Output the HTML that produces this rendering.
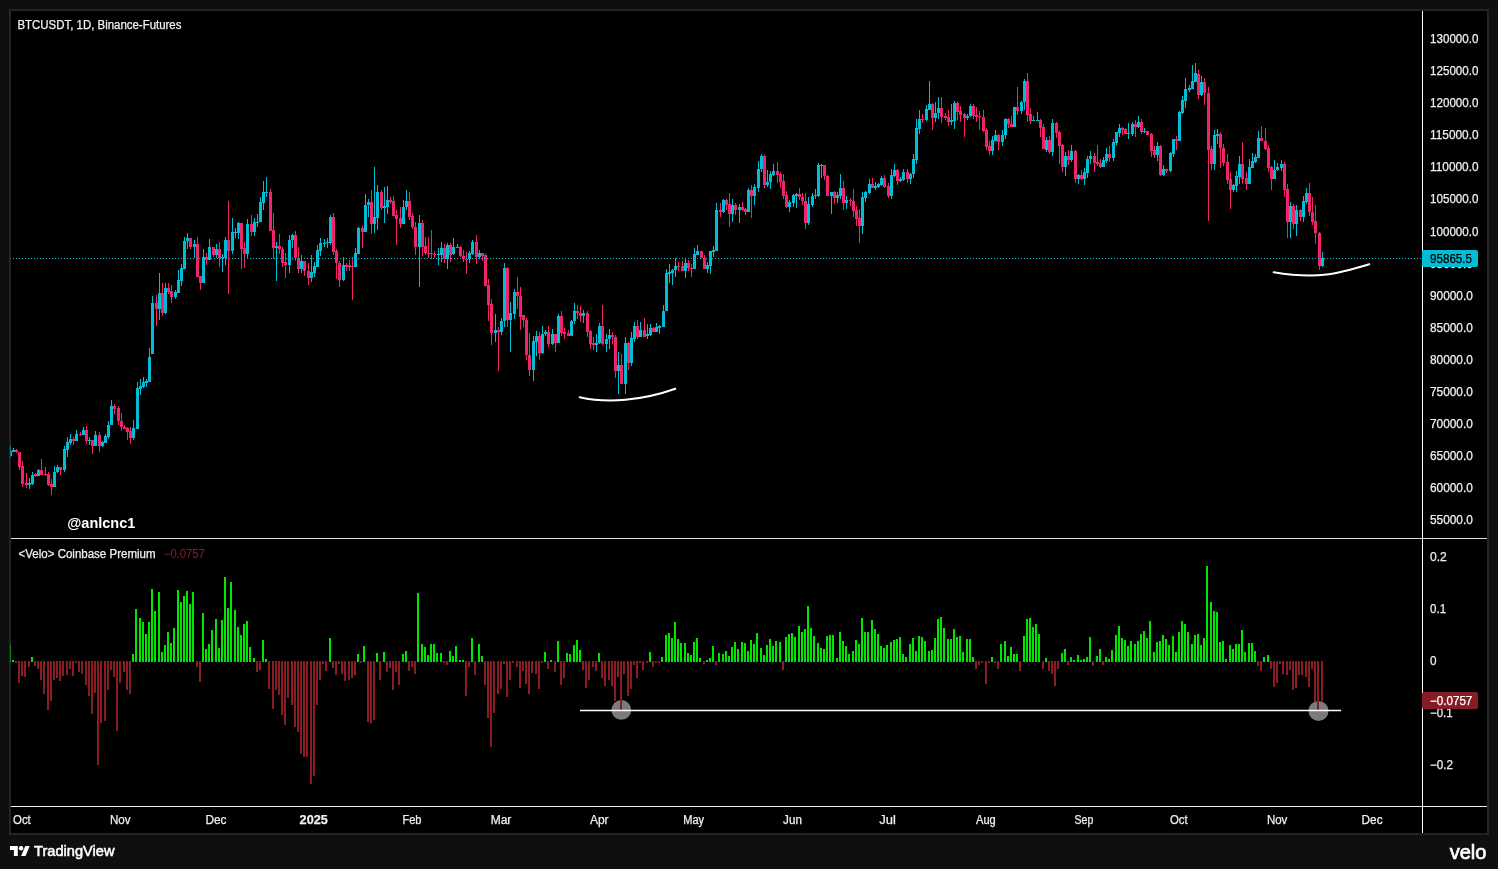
<!DOCTYPE html>
<html><head><meta charset="utf-8"><title>BTCUSDT chart</title>
<style>
html,body{margin:0;padding:0;background:#0f0f0f;width:1498px;height:869px;overflow:hidden}
svg{display:block}
text{font-family:"Liberation Sans",Arial,sans-serif}
</style></head>
<body>
<svg width="1498" height="869" viewBox="0 0 1498 869">
<defs>
<clipPath id="cp1"><rect x="11" y="11" width="1411" height="527"/></clipPath>
<clipPath id="cp2"><rect x="11" y="539" width="1411" height="267"/></clipPath>
</defs>
<rect width="1498" height="869" fill="#0f0f0f"/>
<rect x="9" y="9" width="1480" height="826" fill="#222429"/>
<rect x="11" y="11" width="1476" height="822" fill="#000"/>
<g clip-path="url(#cp1)">
<path fill="#00bcd4" d="M10 446h1v11h-1zM13 448h1v4h-1zM29 478h1v11h-1zM32 472h1v13h-1zM38 469h1v7h-1zM54 466h1v21h-1zM57 465h1v8h-1zM64 446h1v26h-1zM67 437h1v20h-1zM70 434h1v11h-1zM76 430h1v11h-1zM83 427h1v8h-1zM89 437h1v8h-1zM95 431h1v15h-1zM102 441h1v6h-1zM105 434h1v9h-1zM108 421h1v18h-1zM111 400h1v25h-1zM133 420h1v20h-1zM137 382h1v47h-1zM140 379h1v16h-1zM143 377h1v11h-1zM146 379h1v8h-1zM149 348h1v34h-1zM152 296h1v58h-1zM159 273h1v47h-1zM165 283h1v31h-1zM175 290h1v9h-1zM178 270h1v23h-1zM181 264h1v22h-1zM184 237h1v32h-1zM187 233h1v16h-1zM194 240h1v18h-1zM203 249h1v34h-1zM209 239h1v21h-1zM216 244h1v14h-1zM222 254h1v18h-1zM225 237h1v28h-1zM232 218h1v36h-1zM235 228h1v10h-1zM238 222h1v17h-1zM247 219h1v40h-1zM254 218h1v18h-1zM257 214h1v13h-1zM260 197h1v25h-1zM263 181h1v29h-1zM266 177h1v20h-1zM276 242h1v39h-1zM289 235h1v38h-1zM292 234h1v14h-1zM301 255h1v18h-1zM311 255h1v27h-1zM314 262h1v15h-1zM317 245h1v22h-1zM320 238h1v18h-1zM324 239h1v8h-1zM327 238h1v10h-1zM330 215h1v30h-1zM343 257h1v24h-1zM355 248h1v19h-1zM358 227h1v27h-1zM365 194h1v38h-1zM368 199h1v18h-1zM374 167h1v66h-1zM377 185h1v45h-1zM384 187h1v36h-1zM387 186h1v28h-1zM403 200h1v24h-1zM406 190h1v20h-1zM419 215h1v72h-1zM438 248h1v17h-1zM441 242h1v20h-1zM447 243h1v26h-1zM453 238h1v17h-1zM457 244h1v4h-1zM469 251h1v12h-1zM472 240h1v15h-1zM479 250h1v9h-1zM495 314h1v28h-1zM501 318h1v17h-1zM504 263h1v64h-1zM510 302h1v50h-1zM514 289h1v30h-1zM533 336h1v45h-1zM536 331h1v25h-1zM542 326h1v28h-1zM545 330h1v6h-1zM552 329h1v16h-1zM558 314h1v29h-1zM571 320h1v16h-1zM574 303h1v21h-1zM583 310h1v13h-1zM596 334h1v18h-1zM599 323h1v21h-1zM606 334h1v18h-1zM609 329h1v20h-1zM618 352h1v42h-1zM625 337h1v57h-1zM631 332h1v34h-1zM634 322h1v20h-1zM640 322h1v15h-1zM647 324h1v15h-1zM650 324h1v12h-1zM656 323h1v9h-1zM659 325h1v9h-1zM663 305h1v22h-1zM666 269h1v42h-1zM669 264h1v19h-1zM672 269h1v16h-1zM675 258h1v19h-1zM685 258h1v20h-1zM694 248h1v21h-1zM697 245h1v10h-1zM707 262h1v11h-1zM710 251h1v23h-1zM713 246h1v11h-1zM716 203h1v48h-1zM723 199h1v14h-1zM732 199h1v23h-1zM739 204h1v19h-1zM748 188h1v24h-1zM754 184h1v21h-1zM758 161h1v31h-1zM761 154h1v18h-1zM767 170h1v17h-1zM770 171h1v18h-1zM773 164h1v12h-1zM789 200h1v12h-1zM793 194h1v13h-1zM796 193h1v15h-1zM808 197h1v28h-1zM812 193h1v14h-1zM815 189h1v10h-1zM818 163h1v34h-1zM821 164h1v14h-1zM831 192h1v22h-1zM837 192h1v11h-1zM840 174h1v25h-1zM846 196h1v13h-1zM862 192h1v42h-1zM865 191h1v11h-1zM869 179h1v15h-1zM875 182h1v8h-1zM878 183h1v5h-1zM881 176h1v10h-1zM891 169h1v30h-1zM894 164h1v13h-1zM900 177h1v5h-1zM903 169h1v12h-1zM910 173h1v11h-1zM913 154h1v24h-1zM916 119h1v45h-1zM919 110h1v24h-1zM926 105h1v16h-1zM929 81h1v29h-1zM935 102h1v20h-1zM938 97h1v22h-1zM951 104h1v21h-1zM954 101h1v28h-1zM967 114h1v6h-1zM970 104h1v13h-1zM992 136h1v19h-1zM995 130h1v11h-1zM1002 130h1v16h-1zM1005 118h1v21h-1zM1014 107h1v20h-1zM1021 101h1v13h-1zM1024 79h1v31h-1zM1033 116h1v5h-1zM1037 112h1v9h-1zM1046 137h1v15h-1zM1052 119h1v37h-1zM1065 152h1v24h-1zM1071 145h1v17h-1zM1078 174h1v10h-1zM1084 168h1v17h-1zM1087 156h1v22h-1zM1090 151h1v13h-1zM1103 157h1v10h-1zM1106 148h1v15h-1zM1113 139h1v22h-1zM1116 132h1v13h-1zM1119 124h1v13h-1zM1128 123h1v16h-1zM1132 122h1v14h-1zM1138 116h1v12h-1zM1144 128h1v5h-1zM1157 142h1v19h-1zM1163 165h1v11h-1zM1170 152h1v20h-1zM1173 139h1v18h-1zM1179 111h1v30h-1zM1182 96h1v18h-1zM1185 78h1v30h-1zM1189 85h1v7h-1zM1192 65h1v24h-1zM1195 63h1v19h-1zM1201 76h1v20h-1zM1214 130h1v40h-1zM1217 129h1v15h-1zM1233 184h1v8h-1zM1236 171h1v21h-1zM1239 156h1v28h-1zM1249 159h1v25h-1zM1252 153h1v15h-1zM1255 154h1v9h-1zM1258 131h1v27h-1zM1274 160h1v19h-1zM1277 163h1v8h-1zM1281 160h1v11h-1zM1290 202h1v36h-1zM1296 205h1v31h-1zM1303 196h1v26h-1zM1306 188h1v16h-1zM1322 252h1v15h-1zM9 451h3v5h-3zM12 450h3v2h-3zM28 483h3v2h-3zM31 475h3v9h-3zM37 470h3v6h-3zM53 472h3v15h-3zM56 467h3v5h-3zM63 449h3v21h-3zM66 442h3v8h-3zM69 439h3v4h-3zM75 434h3v7h-3zM82 430h3v5h-3zM88 440h3v1h-3zM94 435h3v11h-3zM101 442h3v4h-3zM104 436h3v7h-3zM107 425h3v12h-3zM110 406h3v19h-3zM132 428h3v10h-3zM136 388h3v41h-3zM139 386h3v3h-3zM142 382h3v5h-3zM145 381h3v2h-3zM148 357h3v25h-3zM151 303h3v51h-3zM158 293h3v16h-3zM164 288h3v25h-3zM174 292h3v5h-3zM177 280h3v13h-3zM180 268h3v13h-3zM183 241h3v28h-3zM186 238h3v3h-3zM193 244h3v3h-3zM202 257h3v26h-3zM208 247h3v13h-3zM215 249h3v6h-3zM221 257h3v1h-3zM224 240h3v18h-3zM231 232h3v19h-3zM234 232h3v1h-3zM237 223h3v10h-3zM246 224h3v30h-3zM253 222h3v10h-3zM256 222h3v1h-3zM259 202h3v20h-3zM262 192h3v11h-3zM265 192h3v1h-3zM275 246h3v2h-3zM288 240h3v25h-3zM291 235h3v5h-3zM300 261h3v8h-3zM310 272h3v6h-3zM313 266h3v7h-3zM316 250h3v17h-3zM319 243h3v8h-3zM323 243h3v1h-3zM326 242h3v1h-3zM329 217h3v26h-3zM342 265h3v15h-3zM354 253h3v14h-3zM357 228h3v26h-3zM364 205h3v27h-3zM367 202h3v3h-3zM373 217h3v7h-3zM376 192h3v26h-3zM383 206h3v2h-3zM386 200h3v7h-3zM402 207h3v17h-3zM405 201h3v6h-3zM418 223h3v24h-3zM437 254h3v1h-3zM440 248h3v7h-3zM446 245h3v14h-3zM452 247h3v7h-3zM456 247h3v1h-3zM468 253h3v6h-3zM471 242h3v12h-3zM478 253h3v4h-3zM494 330h3v3h-3zM500 321h3v11h-3zM503 268h3v53h-3zM509 313h3v7h-3zM513 292h3v22h-3zM532 341h3v29h-3zM535 336h3v6h-3zM541 334h3v19h-3zM544 332h3v2h-3zM551 334h3v10h-3zM557 316h3v27h-3zM570 321h3v15h-3zM573 311h3v10h-3zM582 313h3v3h-3zM595 343h3v2h-3zM598 326h3v17h-3zM605 339h3v5h-3zM608 335h3v4h-3zM617 365h3v6h-3zM624 343h3v41h-3zM630 338h3v25h-3zM633 326h3v13h-3zM639 330h3v7h-3zM646 334h3v2h-3zM649 328h3v7h-3zM655 327h3v5h-3zM658 326h3v2h-3zM662 311h3v16h-3zM665 273h3v38h-3zM668 272h3v2h-3zM671 270h3v3h-3zM674 266h3v4h-3zM684 263h3v8h-3zM693 254h3v15h-3zM696 251h3v4h-3zM706 265h3v4h-3zM709 251h3v15h-3zM712 250h3v2h-3zM715 210h3v41h-3zM722 200h3v12h-3zM731 205h3v9h-3zM738 207h3v3h-3zM747 190h3v22h-3zM753 187h3v9h-3zM757 169h3v19h-3zM760 156h3v13h-3zM766 182h3v3h-3zM769 174h3v8h-3zM772 171h3v4h-3zM788 202h3v5h-3zM792 195h3v8h-3zM795 194h3v2h-3zM807 204h3v19h-3zM811 196h3v9h-3zM814 195h3v1h-3zM817 165h3v31h-3zM820 165h3v1h-3zM830 192h3v4h-3zM836 195h3v3h-3zM839 188h3v8h-3zM845 200h3v3h-3zM861 197h3v29h-3zM864 192h3v6h-3zM868 184h3v9h-3zM874 186h3v2h-3zM877 184h3v3h-3zM880 178h3v7h-3zM890 175h3v21h-3zM893 170h3v6h-3zM899 179h3v2h-3zM902 172h3v8h-3zM909 174h3v5h-3zM912 159h3v15h-3zM915 128h3v32h-3zM918 119h3v10h-3zM925 109h3v11h-3zM928 104h3v6h-3zM934 113h3v5h-3zM937 108h3v5h-3zM950 120h3v2h-3zM953 103h3v18h-3zM966 116h3v2h-3zM969 106h3v10h-3zM991 140h3v11h-3zM994 135h3v6h-3zM1001 135h3v7h-3zM1004 119h3v16h-3zM1013 107h3v20h-3zM1020 102h3v9h-3zM1023 81h3v21h-3zM1032 120h3v1h-3zM1036 120h3v1h-3zM1045 140h3v10h-3zM1051 123h3v29h-3zM1064 156h3v11h-3zM1070 151h3v9h-3zM1077 175h3v4h-3zM1083 172h3v7h-3zM1086 159h3v14h-3zM1089 156h3v3h-3zM1102 160h3v7h-3zM1105 154h3v7h-3zM1112 142h3v16h-3zM1115 132h3v11h-3zM1118 128h3v5h-3zM1127 133h3v1h-3zM1131 124h3v10h-3zM1137 122h3v5h-3zM1143 131h3v1h-3zM1156 146h3v9h-3zM1162 169h3v6h-3zM1169 153h3v18h-3zM1172 139h3v15h-3zM1178 112h3v29h-3zM1181 100h3v13h-3zM1184 89h3v12h-3zM1188 88h3v2h-3zM1191 81h3v8h-3zM1194 73h3v9h-3zM1200 82h3v13h-3zM1213 135h3v29h-3zM1216 134h3v2h-3zM1232 185h3v5h-3zM1235 176h3v10h-3zM1238 164h3v13h-3zM1248 167h3v17h-3zM1251 161h3v7h-3zM1254 157h3v5h-3zM1257 138h3v20h-3zM1273 170h3v9h-3zM1276 167h3v3h-3zM1280 164h3v4h-3zM1289 206h3v16h-3zM1295 210h3v14h-3zM1302 201h3v16h-3zM1305 193h3v9h-3zM1321 258h3v8h-3z"/><path fill="#f0246c" d="M16 449h1v4h-1zM19 452h1v18h-1zM22 461h1v26h-1zM26 473h1v15h-1zM35 473h1v4h-1zM41 459h1v16h-1zM45 467h1v9h-1zM48 472h1v14h-1zM51 479h1v16h-1zM60 467h1v8h-1zM73 437h1v8h-1zM80 432h1v4h-1zM86 426h1v18h-1zM92 440h1v14h-1zM99 432h1v20h-1zM114 404h1v10h-1zM118 406h1v19h-1zM121 413h1v18h-1zM124 425h1v4h-1zM127 427h1v13h-1zM130 427h1v17h-1zM156 295h1v31h-1zM162 283h1v33h-1zM168 283h1v11h-1zM171 285h1v18h-1zM190 238h1v11h-1zM197 237h1v40h-1zM200 276h1v14h-1zM206 253h1v12h-1zM213 247h1v10h-1zM219 242h1v25h-1zM228 201h1v93h-1zM241 223h1v46h-1zM244 242h1v26h-1zM251 215h1v21h-1zM270 189h1v42h-1zM273 213h1v46h-1zM279 234h1v20h-1zM282 247h1v20h-1zM285 253h1v25h-1zM295 231h1v30h-1zM298 247h1v26h-1zM304 261h1v15h-1zM308 263h1v22h-1zM333 213h1v42h-1zM336 249h1v30h-1zM339 261h1v26h-1zM346 263h1v8h-1zM349 260h1v11h-1zM352 257h1v43h-1zM362 226h1v22h-1zM371 190h1v44h-1zM381 190h1v20h-1zM390 197h1v7h-1zM393 196h1v20h-1zM396 210h1v35h-1zM400 207h1v21h-1zM409 192h1v28h-1zM412 213h1v16h-1zM415 222h1v33h-1zM422 220h1v36h-1zM425 237h1v18h-1zM428 237h1v21h-1zM431 230h1v29h-1zM434 251h1v7h-1zM444 244h1v19h-1zM450 243h1v19h-1zM460 246h1v11h-1zM463 250h1v12h-1zM466 252h1v22h-1zM476 235h1v29h-1zM482 253h1v8h-1zM485 254h1v32h-1zM488 279h1v42h-1zM491 299h1v46h-1zM498 327h1v44h-1zM507 267h1v60h-1zM517 277h1v32h-1zM520 287h1v43h-1zM523 315h1v12h-1zM526 318h1v42h-1zM529 333h1v43h-1zM539 332h1v28h-1zM548 326h1v21h-1zM555 334h1v18h-1zM561 311h1v25h-1zM564 328h1v11h-1zM568 330h1v6h-1zM577 305h1v14h-1zM580 306h1v16h-1zM587 311h1v26h-1zM590 330h1v19h-1zM593 337h1v13h-1zM602 305h1v40h-1zM612 332h1v12h-1zM615 335h1v43h-1zM621 354h1v30h-1zM628 342h1v28h-1zM637 320h1v19h-1zM644 318h1v19h-1zM653 327h1v5h-1zM678 262h1v9h-1zM682 261h1v10h-1zM688 260h1v11h-1zM691 264h1v13h-1zM701 251h1v7h-1zM704 255h1v14h-1zM720 203h1v14h-1zM726 199h1v11h-1zM729 193h1v34h-1zM735 203h1v12h-1zM742 202h1v9h-1zM745 208h1v7h-1zM751 185h1v33h-1zM764 155h1v33h-1zM777 162h1v21h-1zM780 172h1v16h-1zM783 174h1v25h-1zM786 191h1v17h-1zM799 188h1v12h-1zM802 193h1v12h-1zM805 193h1v36h-1zM824 165h1v15h-1zM827 175h1v21h-1zM834 191h1v13h-1zM843 181h1v29h-1zM850 198h1v8h-1zM853 189h1v28h-1zM856 206h1v20h-1zM859 209h1v34h-1zM872 178h1v10h-1zM884 175h1v13h-1zM888 183h1v15h-1zM897 169h1v16h-1zM907 169h1v14h-1zM922 114h1v9h-1zM932 103h1v27h-1zM941 97h1v26h-1zM945 113h1v7h-1zM948 110h1v16h-1zM957 102h1v18h-1zM960 106h1v16h-1zM964 113h1v24h-1zM973 104h1v15h-1zM976 107h1v15h-1zM979 111h1v19h-1zM983 110h1v22h-1zM986 128h1v22h-1zM989 141h1v14h-1zM998 134h1v16h-1zM1008 118h1v10h-1zM1011 116h1v11h-1zM1017 87h1v28h-1zM1027 73h1v49h-1zM1030 108h1v16h-1zM1040 119h1v18h-1zM1043 124h1v25h-1zM1049 136h1v18h-1zM1056 122h1v16h-1zM1059 131h1v33h-1zM1062 144h1v28h-1zM1068 150h1v15h-1zM1075 150h1v33h-1zM1081 170h1v10h-1zM1094 153h1v19h-1zM1097 145h1v21h-1zM1100 159h1v9h-1zM1109 146h1v16h-1zM1122 127h1v8h-1zM1125 128h1v6h-1zM1135 120h1v17h-1zM1141 119h1v15h-1zM1147 131h1v4h-1zM1151 133h1v24h-1zM1154 146h1v12h-1zM1160 145h1v31h-1zM1166 169h1v4h-1zM1176 136h1v14h-1zM1198 70h1v29h-1zM1204 78h1v27h-1zM1208 87h1v134h-1zM1211 146h1v24h-1zM1220 132h1v36h-1zM1223 144h1v22h-1zM1227 154h1v30h-1zM1230 172h1v37h-1zM1242 142h1v42h-1zM1246 172h1v18h-1zM1261 126h1v15h-1zM1265 128h1v22h-1zM1268 145h1v27h-1zM1271 166h1v24h-1zM1284 162h1v35h-1zM1287 184h1v54h-1zM1293 204h1v25h-1zM1300 209h1v12h-1zM1309 183h1v33h-1zM1312 197h1v28h-1zM1315 205h1v39h-1zM1319 232h1v38h-1zM15 450h3v2h-3zM18 452h3v15h-3zM21 466h3v18h-3zM25 483h3v2h-3zM34 474h3v2h-3zM40 470h3v5h-3zM44 474h3v1h-3zM47 474h3v11h-3zM50 484h3v3h-3zM59 467h3v3h-3zM72 439h3v2h-3zM79 434h3v1h-3zM85 430h3v11h-3zM91 440h3v6h-3zM98 435h3v11h-3zM113 406h3v3h-3zM117 408h3v13h-3zM120 421h3v6h-3zM123 427h3v2h-3zM126 428h3v4h-3zM129 431h3v7h-3zM155 303h3v6h-3zM161 293h3v20h-3zM167 288h3v4h-3zM170 291h3v6h-3zM189 238h3v9h-3zM196 244h3v33h-3zM199 276h3v7h-3zM205 257h3v3h-3zM212 247h3v8h-3zM218 249h3v9h-3zM227 240h3v11h-3zM240 223h3v26h-3zM243 248h3v6h-3zM250 224h3v8h-3zM269 192h3v39h-3zM272 230h3v18h-3zM278 246h3v3h-3zM281 249h3v14h-3zM284 262h3v3h-3zM294 235h3v23h-3zM297 258h3v11h-3zM303 261h3v10h-3zM307 271h3v7h-3zM332 217h3v35h-3zM335 251h3v12h-3zM338 263h3v17h-3zM345 265h3v2h-3zM348 265h3v2h-3zM351 266h3v1h-3zM361 228h3v4h-3zM370 202h3v22h-3zM380 192h3v16h-3zM389 200h3v2h-3zM392 201h3v15h-3zM395 215h3v4h-3zM399 218h3v6h-3zM408 201h3v16h-3zM411 216h3v11h-3zM414 227h3v20h-3zM421 223h3v24h-3zM424 246h3v7h-3zM427 253h3v1h-3zM430 253h3v1h-3zM433 254h3v1h-3zM443 248h3v11h-3zM449 245h3v10h-3zM459 247h3v9h-3zM462 256h3v3h-3zM465 259h3v1h-3zM475 242h3v15h-3zM481 253h3v3h-3zM484 255h3v31h-3zM487 285h3v20h-3zM490 304h3v29h-3zM497 330h3v2h-3zM506 268h3v52h-3zM516 292h3v4h-3zM519 296h3v21h-3zM522 315h3v5h-3zM525 320h3v35h-3zM528 355h3v15h-3zM538 336h3v17h-3zM547 332h3v12h-3zM554 334h3v9h-3zM560 316h3v17h-3zM563 332h3v2h-3zM567 333h3v3h-3zM576 311h3v2h-3zM579 313h3v3h-3zM586 313h3v19h-3zM589 331h3v13h-3zM592 343h3v2h-3zM601 326h3v18h-3zM611 335h3v2h-3zM614 337h3v34h-3zM620 365h3v19h-3zM627 343h3v20h-3zM636 326h3v11h-3zM643 330h3v7h-3zM652 328h3v4h-3zM677 266h3v1h-3zM681 266h3v5h-3zM687 263h3v5h-3zM690 268h3v1h-3zM700 251h3v7h-3zM703 258h3v11h-3zM719 210h3v2h-3zM725 200h3v5h-3zM728 204h3v10h-3zM734 205h3v5h-3zM741 207h3v3h-3zM744 209h3v3h-3zM750 190h3v6h-3zM763 156h3v29h-3zM776 171h3v4h-3zM779 174h3v8h-3zM782 181h3v15h-3zM785 195h3v12h-3zM798 194h3v3h-3zM801 197h3v4h-3zM804 201h3v22h-3zM823 165h3v11h-3zM826 176h3v20h-3zM833 192h3v6h-3zM842 188h3v15h-3zM849 200h3v1h-3zM852 201h3v10h-3zM855 210h3v9h-3zM858 218h3v8h-3zM871 184h3v4h-3zM883 178h3v9h-3zM887 186h3v10h-3zM896 170h3v11h-3zM906 172h3v7h-3zM921 119h3v1h-3zM931 104h3v14h-3zM940 108h3v9h-3zM944 116h3v2h-3zM947 117h3v5h-3zM956 103h3v9h-3zM959 111h3v4h-3zM963 114h3v4h-3zM972 106h3v10h-3zM975 115h3v2h-3zM978 116h3v1h-3zM982 117h3v14h-3zM985 130h3v17h-3zM988 146h3v5h-3zM997 135h3v7h-3zM1007 119h3v5h-3zM1010 124h3v3h-3zM1016 107h3v4h-3zM1026 81h3v34h-3zM1029 114h3v7h-3zM1039 120h3v8h-3zM1042 127h3v22h-3zM1048 140h3v12h-3zM1055 123h3v10h-3zM1058 132h3v14h-3zM1061 145h3v22h-3zM1067 156h3v4h-3zM1074 151h3v28h-3zM1080 175h3v4h-3zM1093 156h3v7h-3zM1096 162h3v2h-3zM1099 163h3v4h-3zM1108 154h3v4h-3zM1121 128h3v2h-3zM1124 129h3v5h-3zM1134 124h3v3h-3zM1140 122h3v10h-3zM1146 131h3v4h-3zM1150 134h3v17h-3zM1153 150h3v5h-3zM1159 146h3v29h-3zM1165 169h3v2h-3zM1175 139h3v2h-3zM1197 74h3v21h-3zM1203 82h3v11h-3zM1207 93h3v57h-3zM1210 149h3v15h-3zM1219 134h3v14h-3zM1222 148h3v15h-3zM1226 162h3v18h-3zM1229 179h3v11h-3zM1241 164h3v15h-3zM1245 178h3v6h-3zM1260 138h3v3h-3zM1264 141h3v8h-3zM1267 148h3v20h-3zM1270 167h3v12h-3zM1283 164h3v26h-3zM1286 189h3v33h-3zM1292 206h3v18h-3zM1299 210h3v7h-3zM1308 193h3v19h-3zM1311 212h3v10h-3zM1314 221h3v12h-3zM1318 233h3v33h-3z"/>
<line x1="10" y1="258.5" x2="1422" y2="258.5" stroke="#00bcd4" stroke-width="1" stroke-dasharray="1 2"/>
<path d="M579.6 397.2 C607.3 403.4 642.4 400.6 675.3 388.8" fill="none" stroke="#fff" stroke-width="2" stroke-linecap="round"/>
<path d="M1273.7 272.3 C1318.3 279.7 1338.8 273.5 1369.3 264.2" fill="none" stroke="#fff" stroke-width="2" stroke-linecap="round"/>
</g>
<g clip-path="url(#cp2)">
<circle cx="621.35" cy="709.9" r="9.9" fill="#7b7b7b"/>
<circle cx="1318.5" cy="710.9" r="10" fill="#7b7b7b"/>
<path fill="#00e600" d="M9 645h2v17h-2zM12 660h2v2h-2zM31 657h2v5h-2zM132 654h2v8h-2zM135 609h2v53h-2zM139 618h2v44h-2zM142 622h2v40h-2zM145 634h2v28h-2zM148 622h2v40h-2zM151 589h2v73h-2zM154 611h2v51h-2zM158 592h2v70h-2zM161 652h2v10h-2zM164 645h2v17h-2zM167 632h2v30h-2zM170 643h2v19h-2zM173 628h2v34h-2zM177 590h2v72h-2zM180 602h2v60h-2zM183 596h2v66h-2zM186 591h2v71h-2zM189 604h2v58h-2zM192 592h2v70h-2zM202 613h2v49h-2zM205 649h2v13h-2zM208 644h2v18h-2zM211 630h2v32h-2zM215 619h2v43h-2zM218 648h2v14h-2zM221 620h2v42h-2zM224 577h2v85h-2zM227 608h2v54h-2zM230 582h2v80h-2zM234 610h2v52h-2zM237 627h2v35h-2zM240 635h2v27h-2zM243 624h2v38h-2zM246 621h2v41h-2zM249 647h2v15h-2zM253 658h2v4h-2zM262 640h2v22h-2zM265 659h2v3h-2zM329 638h2v24h-2zM357 654h2v8h-2zM363 646h2v16h-2zM376 653h2v9h-2zM383 652h2v10h-2zM402 654h2v8h-2zM405 651h2v11h-2zM417 593h2v69h-2zM421 644h2v18h-2zM424 647h2v15h-2zM427 655h2v7h-2zM430 644h2v18h-2zM433 644h2v18h-2zM436 653h2v9h-2zM440 653h2v9h-2zM449 651h2v11h-2zM452 656h2v6h-2zM455 646h2v16h-2zM459 660h2v2h-2zM462 660h2v2h-2zM471 638h2v24h-2zM478 644h2v18h-2zM481 656h2v6h-2zM544 652h2v10h-2zM550 660h2v2h-2zM557 641h2v21h-2zM566 653h2v9h-2zM569 654h2v8h-2zM573 645h2v17h-2zM576 640h2v22h-2zM579 650h2v12h-2zM598 653h2v9h-2zM649 652h2v10h-2zM661 657h2v5h-2zM665 635h2v27h-2zM668 633h2v29h-2zM671 638h2v24h-2zM674 622h2v40h-2zM677 639h2v23h-2zM680 643h2v19h-2zM684 643h2v19h-2zM687 653h2v9h-2zM690 655h2v7h-2zM693 642h2v20h-2zM696 638h2v24h-2zM699 658h2v4h-2zM706 660h2v2h-2zM709 658h2v4h-2zM712 646h2v16h-2zM718 653h2v9h-2zM722 654h2v8h-2zM725 651h2v11h-2zM728 656h2v6h-2zM731 647h2v15h-2zM734 642h2v20h-2zM737 649h2v13h-2zM741 642h2v20h-2zM744 643h2v19h-2zM747 651h2v11h-2zM750 640h2v22h-2zM753 644h2v18h-2zM756 633h2v29h-2zM760 648h2v14h-2zM763 655h2v7h-2zM766 645h2v17h-2zM769 639h2v23h-2zM772 646h2v16h-2zM775 641h2v21h-2zM779 642h2v20h-2zM785 637h2v25h-2zM788 634h2v28h-2zM791 633h2v29h-2zM794 637h2v25h-2zM798 626h2v36h-2zM801 632h2v30h-2zM804 629h2v33h-2zM807 606h2v56h-2zM810 628h2v34h-2zM813 636h2v26h-2zM817 643h2v19h-2zM820 648h2v14h-2zM823 649h2v13h-2zM826 636h2v26h-2zM829 635h2v27h-2zM832 635h2v27h-2zM836 658h2v4h-2zM839 632h2v30h-2zM842 641h2v21h-2zM845 646h2v16h-2zM848 654h2v8h-2zM852 651h2v11h-2zM855 640h2v22h-2zM858 644h2v18h-2zM861 618h2v44h-2zM864 632h2v30h-2zM867 632h2v30h-2zM871 620h2v42h-2zM874 629h2v33h-2zM877 634h2v28h-2zM880 646h2v16h-2zM883 648h2v14h-2zM886 645h2v17h-2zM890 642h2v20h-2zM893 640h2v22h-2zM896 639h2v23h-2zM899 637h2v25h-2zM902 654h2v8h-2zM905 657h2v5h-2zM909 644h2v18h-2zM912 638h2v24h-2zM915 651h2v11h-2zM918 636h2v26h-2zM921 637h2v25h-2zM924 641h2v21h-2zM928 651h2v11h-2zM931 650h2v12h-2zM934 638h2v24h-2zM937 619h2v43h-2zM940 617h2v45h-2zM943 628h2v34h-2zM947 639h2v23h-2zM950 639h2v23h-2zM953 629h2v33h-2zM956 637h2v25h-2zM959 636h2v26h-2zM962 652h2v10h-2zM966 639h2v23h-2zM969 639h2v23h-2zM972 657h2v5h-2zM991 657h2v5h-2zM1000 644h2v18h-2zM1004 641h2v21h-2zM1007 656h2v6h-2zM1010 647h2v15h-2zM1013 654h2v8h-2zM1016 654h2v8h-2zM1023 636h2v26h-2zM1026 619h2v43h-2zM1029 618h2v44h-2zM1032 627h2v35h-2zM1035 624h2v38h-2zM1038 634h2v28h-2zM1045 658h2v4h-2zM1061 653h2v9h-2zM1064 649h2v13h-2zM1070 657h2v5h-2zM1073 660h2v2h-2zM1077 655h2v7h-2zM1080 660h2v2h-2zM1083 659h2v3h-2zM1086 657h2v5h-2zM1089 637h2v25h-2zM1096 656h2v6h-2zM1099 649h2v13h-2zM1105 657h2v5h-2zM1108 659h2v3h-2zM1111 650h2v12h-2zM1115 635h2v27h-2zM1118 626h2v36h-2zM1121 638h2v24h-2zM1124 640h2v22h-2zM1127 646h2v16h-2zM1130 641h2v21h-2zM1134 644h2v18h-2zM1137 641h2v21h-2zM1140 634h2v28h-2zM1143 631h2v31h-2zM1146 638h2v24h-2zM1149 621h2v41h-2zM1153 652h2v10h-2zM1156 642h2v20h-2zM1159 641h2v21h-2zM1162 635h2v27h-2zM1165 639h2v23h-2zM1168 645h2v17h-2zM1172 636h2v26h-2zM1175 652h2v10h-2zM1178 632h2v30h-2zM1181 621h2v41h-2zM1184 624h2v38h-2zM1187 632h2v30h-2zM1191 644h2v18h-2zM1194 635h2v27h-2zM1197 634h2v28h-2zM1200 645h2v17h-2zM1203 638h2v24h-2zM1206 566h2v96h-2zM1210 602h2v60h-2zM1213 611h2v51h-2zM1216 612h2v50h-2zM1219 642h2v20h-2zM1222 641h2v21h-2zM1225 659h2v3h-2zM1229 645h2v17h-2zM1232 649h2v13h-2zM1235 644h2v18h-2zM1238 644h2v18h-2zM1241 630h2v32h-2zM1244 652h2v10h-2zM1248 643h2v19h-2zM1251 643h2v19h-2zM1254 651h2v11h-2zM1263 657h2v5h-2zM1267 655h2v7h-2z"/><path fill="#8c1c24" d="M15 661h2v2h-2zM18 661h2v22h-2zM21 661h2v15h-2zM24 661h2v16h-2zM28 661h2v6h-2zM34 661h2v5h-2zM37 661h2v8h-2zM40 661h2v19h-2zM43 661h2v33h-2zM47 661h2v49h-2zM50 661h2v40h-2zM53 661h2v19h-2zM56 661h2v17h-2zM59 661h2v20h-2zM62 661h2v15h-2zM66 661h2v14h-2zM69 661h2v8h-2zM72 661h2v15h-2zM75 661h2v2h-2zM78 661h2v11h-2zM81 661h2v13h-2zM85 661h2v24h-2zM88 661h2v35h-2zM91 661h2v53h-2zM94 661h2v32h-2zM97 661h2v104h-2zM100 661h2v62h-2zM104 661h2v60h-2zM107 661h2v29h-2zM110 661h2v9h-2zM113 661h2v16h-2zM116 661h2v70h-2zM119 661h2v22h-2zM123 661h2v11h-2zM126 661h2v29h-2zM129 661h2v33h-2zM196 661h2v6h-2zM199 661h2v21h-2zM256 661h2v11h-2zM259 661h2v9h-2zM268 661h2v28h-2zM272 661h2v48h-2zM275 661h2v29h-2zM278 661h2v34h-2zM281 661h2v54h-2zM284 661h2v64h-2zM287 661h2v37h-2zM291 661h2v44h-2zM294 661h2v66h-2zM297 661h2v71h-2zM300 661h2v93h-2zM303 661h2v96h-2zM306 661h2v96h-2zM310 661h2v123h-2zM313 661h2v115h-2zM316 661h2v44h-2zM319 661h2v19h-2zM322 661h2v3h-2zM325 661h2v10h-2zM332 661h2v7h-2zM335 661h2v14h-2zM338 661h2v3h-2zM341 661h2v13h-2zM344 661h2v20h-2zM348 661h2v19h-2zM351 661h2v17h-2zM354 661h2v14h-2zM360 661h2v2h-2zM367 661h2v61h-2zM370 661h2v62h-2zM373 661h2v59h-2zM379 661h2v19h-2zM386 661h2v11h-2zM389 661h2v7h-2zM392 661h2v29h-2zM395 661h2v11h-2zM398 661h2v24h-2zM408 661h2v10h-2zM411 661h2v6h-2zM414 661h2v13h-2zM443 661h2v2h-2zM446 661h2v4h-2zM465 661h2v35h-2zM468 661h2v6h-2zM474 661h2v14h-2zM484 661h2v24h-2zM487 661h2v57h-2zM490 661h2v86h-2zM493 661h2v52h-2zM497 661h2v33h-2zM500 661h2v28h-2zM503 661h2v3h-2zM506 661h2v36h-2zM509 661h2v19h-2zM512 661h2v2h-2zM516 661h2v6h-2zM519 661h2v27h-2zM522 661h2v10h-2zM525 661h2v23h-2zM528 661h2v33h-2zM531 661h2v12h-2zM535 661h2v13h-2zM538 661h2v28h-2zM541 661h2v2h-2zM547 661h2v8h-2zM554 661h2v11h-2zM560 661h2v24h-2zM563 661h2v17h-2zM582 661h2v9h-2zM585 661h2v27h-2zM588 661h2v19h-2zM592 661h2v6h-2zM595 661h2v10h-2zM601 661h2v17h-2zM604 661h2v25h-2zM608 661h2v19h-2zM611 661h2v25h-2zM614 661h2v40h-2zM617 661h2v16h-2zM620 661h2v49h-2zM623 661h2v13h-2zM627 661h2v35h-2zM630 661h2v28h-2zM633 661h2v4h-2zM636 661h2v17h-2zM639 661h2v2h-2zM642 661h2v9h-2zM646 661h2v2h-2zM652 661h2v6h-2zM655 661h2v2h-2zM658 661h2v2h-2zM703 661h2v3h-2zM715 661h2v4h-2zM782 661h2v9h-2zM975 661h2v8h-2zM978 661h2v4h-2zM981 661h2v2h-2zM985 661h2v23h-2zM988 661h2v2h-2zM994 661h2v2h-2zM997 661h2v8h-2zM1019 661h2v10h-2zM1042 661h2v8h-2zM1048 661h2v10h-2zM1051 661h2v13h-2zM1054 661h2v25h-2zM1057 661h2v8h-2zM1067 661h2v4h-2zM1092 661h2v5h-2zM1102 661h2v4h-2zM1257 661h2v5h-2zM1260 661h2v10h-2zM1270 661h2v8h-2zM1273 661h2v26h-2zM1276 661h2v22h-2zM1279 661h2v3h-2zM1282 661h2v13h-2zM1286 661h2v14h-2zM1289 661h2v9h-2zM1292 661h2v29h-2zM1295 661h2v27h-2zM1298 661h2v14h-2zM1301 661h2v14h-2zM1305 661h2v16h-2zM1308 661h2v26h-2zM1311 661h2v8h-2zM1314 661h2v41h-2zM1317 661h2v50h-2zM1321 661h2v40h-2z"/>
<line x1="580" y1="710.45" x2="1341" y2="710.45" stroke="#fff" stroke-width="1.4"/>
</g>
<rect x="10" y="446" width="1" height="11" fill="#00bcd4" fill-opacity="0.6"/>
<rect x="10" y="258" width="1" height="1" fill="#00bcd4" fill-opacity="0.5"/>
<rect x="10" y="645" width="1" height="17" fill="#00e600" fill-opacity="0.5"/>
<rect x="11" y="538" width="1476" height="1" fill="#dcdfe9"/>
<rect x="11" y="806" width="1476" height="1" fill="#f0f0f0"/>
<rect x="1422" y="11" width="1" height="822" fill="#fff"/>
<text id="title" x="17.45" y="29" font-size="12" fill="#f0f0f0" textLength="164.01" lengthAdjust="spacingAndGlyphs" stroke="#f0f0f0" stroke-width="0.25">BTCUSDT, 1D, Binance-Futures</text>
<text id="vhdr" x="18.60" y="557.6" font-size="12" fill="#f0f0f0" textLength="136.93" lengthAdjust="spacingAndGlyphs" stroke="#f0f0f0" stroke-width="0.25">&lt;Velo&gt; Coinbase Premium</text>
<text id="vval" x="163.81" y="557.6" font-size="12" fill="#8c1c24" textLength="41.09" lengthAdjust="spacingAndGlyphs">−0.0757</text>
<text id="anl" x="67.19" y="528" font-size="15" fill="#fff" font-weight="bold" textLength="68.13" lengthAdjust="spacingAndGlyphs">@anlcnc1</text>
<text id="p55000" x="1429.98" y="524.3" font-size="12" fill="#f0f0f0" textLength="42.92" lengthAdjust="spacingAndGlyphs" stroke="#f0f0f0" stroke-width="0.25">55000.0</text>
<text id="p60000" x="1429.98" y="492.2" font-size="12" fill="#f0f0f0" textLength="42.92" lengthAdjust="spacingAndGlyphs" stroke="#f0f0f0" stroke-width="0.25">60000.0</text>
<text id="p65000" x="1429.98" y="460.1" font-size="12" fill="#f0f0f0" textLength="42.92" lengthAdjust="spacingAndGlyphs" stroke="#f0f0f0" stroke-width="0.25">65000.0</text>
<text id="p70000" x="1429.98" y="428.0" font-size="12" fill="#f0f0f0" textLength="42.92" lengthAdjust="spacingAndGlyphs" stroke="#f0f0f0" stroke-width="0.25">70000.0</text>
<text id="p75000" x="1429.98" y="395.9" font-size="12" fill="#f0f0f0" textLength="42.92" lengthAdjust="spacingAndGlyphs" stroke="#f0f0f0" stroke-width="0.25">75000.0</text>
<text id="p80000" x="1429.98" y="363.9" font-size="12" fill="#f0f0f0" textLength="42.92" lengthAdjust="spacingAndGlyphs" stroke="#f0f0f0" stroke-width="0.25">80000.0</text>
<text id="p85000" x="1429.98" y="331.8" font-size="12" fill="#f0f0f0" textLength="42.92" lengthAdjust="spacingAndGlyphs" stroke="#f0f0f0" stroke-width="0.25">85000.0</text>
<text id="p90000" x="1429.98" y="299.7" font-size="12" fill="#f0f0f0" textLength="42.92" lengthAdjust="spacingAndGlyphs" stroke="#f0f0f0" stroke-width="0.25">90000.0</text>
<text id="p95000" x="1429.98" y="267.6" font-size="12" fill="#f0f0f0" textLength="42.92" lengthAdjust="spacingAndGlyphs" stroke="#f0f0f0" stroke-width="0.25">95000.0</text>
<text id="p100000" x="1430.02" y="235.5" font-size="12" fill="#f0f0f0" textLength="48.44" lengthAdjust="spacingAndGlyphs" stroke="#f0f0f0" stroke-width="0.25">100000.0</text>
<text id="p105000" x="1430.02" y="203.4" font-size="12" fill="#f0f0f0" textLength="48.44" lengthAdjust="spacingAndGlyphs" stroke="#f0f0f0" stroke-width="0.25">105000.0</text>
<text id="p110000" x="1430.01" y="171.3" font-size="12" fill="#f0f0f0" textLength="48.57" lengthAdjust="spacingAndGlyphs" stroke="#f0f0f0" stroke-width="0.25">110000.0</text>
<text id="p115000" x="1430.01" y="139.3" font-size="12" fill="#f0f0f0" textLength="48.57" lengthAdjust="spacingAndGlyphs" stroke="#f0f0f0" stroke-width="0.25">115000.0</text>
<text id="p120000" x="1430.02" y="107.2" font-size="12" fill="#f0f0f0" textLength="48.44" lengthAdjust="spacingAndGlyphs" stroke="#f0f0f0" stroke-width="0.25">120000.0</text>
<text id="p125000" x="1430.02" y="75.1" font-size="12" fill="#f0f0f0" textLength="48.44" lengthAdjust="spacingAndGlyphs" stroke="#f0f0f0" stroke-width="0.25">125000.0</text>
<text id="p130000" x="1430.02" y="43.0" font-size="12" fill="#f0f0f0" textLength="48.44" lengthAdjust="spacingAndGlyphs" stroke="#f0f0f0" stroke-width="0.25">130000.0</text>
<text id="h0.2" x="1430.00" y="560.8" font-size="12" fill="#f0f0f0" textLength="16.75" lengthAdjust="spacingAndGlyphs" stroke="#f0f0f0" stroke-width="0.25">0.2</text>
<text id="h0.1" x="1430.00" y="612.9" font-size="12" fill="#f0f0f0" textLength="16.10" lengthAdjust="spacingAndGlyphs" stroke="#f0f0f0" stroke-width="0.25">0.1</text>
<text id="h0" x="1430.00" y="665.0" font-size="12" fill="#f0f0f0" textLength="6.55" lengthAdjust="spacingAndGlyphs" stroke="#f0f0f0" stroke-width="0.25">0</text>
<text id="h-0.1" x="1430.00" y="717.1" font-size="12" fill="#f0f0f0" textLength="22.53" lengthAdjust="spacingAndGlyphs" stroke="#f0f0f0" stroke-width="0.25">−0.1</text>
<text id="h-0.2" x="1430.00" y="769.2" font-size="12" fill="#f0f0f0" textLength="23.11" lengthAdjust="spacingAndGlyphs" stroke="#f0f0f0" stroke-width="0.25">−0.2</text>
<text id="m0" x="13.06" y="824" font-size="12" fill="#f0f0f0" textLength="17.72" lengthAdjust="spacingAndGlyphs" stroke="#f0f0f0" stroke-width="0.25">Oct</text>
<text id="m1" x="110.03" y="824" font-size="12" fill="#f0f0f0" textLength="20.50" lengthAdjust="spacingAndGlyphs" stroke="#f0f0f0" stroke-width="0.25">Nov</text>
<text id="m2" x="205.46" y="824" font-size="12" fill="#f0f0f0" textLength="20.96" lengthAdjust="spacingAndGlyphs" stroke="#f0f0f0" stroke-width="0.25">Dec</text>
<text id="m3" x="299.64" y="824" font-size="12" fill="#f0f0f0" font-weight="bold" textLength="28.15" lengthAdjust="spacingAndGlyphs" stroke="#f0f0f0" stroke-width="0.25">2025</text>
<text id="m4" x="402.38" y="824" font-size="12" fill="#f0f0f0" textLength="19.07" lengthAdjust="spacingAndGlyphs" stroke="#f0f0f0" stroke-width="0.25">Feb</text>
<text id="m5" x="490.67" y="824" font-size="12" fill="#f0f0f0" textLength="20.67" lengthAdjust="spacingAndGlyphs" stroke="#f0f0f0" stroke-width="0.25">Mar</text>
<text id="m6" x="589.93" y="824" font-size="12" fill="#f0f0f0" textLength="18.69" lengthAdjust="spacingAndGlyphs" stroke="#f0f0f0" stroke-width="0.25">Apr</text>
<text id="m7" x="683.29" y="824" font-size="12" fill="#f0f0f0" textLength="20.83" lengthAdjust="spacingAndGlyphs" stroke="#f0f0f0" stroke-width="0.25">May</text>
<text id="m8" x="783.12" y="824" font-size="12" fill="#f0f0f0" textLength="18.78" lengthAdjust="spacingAndGlyphs" stroke="#f0f0f0" stroke-width="0.25">Jun</text>
<text id="m9" x="879.23" y="824" font-size="12" fill="#f0f0f0" textLength="16.59" lengthAdjust="spacingAndGlyphs" stroke="#f0f0f0" stroke-width="0.25">Jul</text>
<text id="m10" x="976.04" y="824" font-size="12" fill="#f0f0f0" textLength="19.75" lengthAdjust="spacingAndGlyphs" stroke="#f0f0f0" stroke-width="0.25">Aug</text>
<text id="m11" x="1074.55" y="824" font-size="12" fill="#f0f0f0" textLength="18.80" lengthAdjust="spacingAndGlyphs" stroke="#f0f0f0" stroke-width="0.25">Sep</text>
<text id="m12" x="1169.97" y="824" font-size="12" fill="#f0f0f0" textLength="17.72" lengthAdjust="spacingAndGlyphs" stroke="#f0f0f0" stroke-width="0.25">Oct</text>
<text id="m13" x="1266.89" y="824" font-size="12" fill="#f0f0f0" textLength="20.38" lengthAdjust="spacingAndGlyphs" stroke="#f0f0f0" stroke-width="0.25">Nov</text>
<text id="m14" x="1361.57" y="824" font-size="12" fill="#f0f0f0" textLength="20.97" lengthAdjust="spacingAndGlyphs" stroke="#f0f0f0" stroke-width="0.25">Dec</text>
<text id="tv" x="34.12" y="856" font-size="14" fill="#fff" textLength="80.41" lengthAdjust="spacingAndGlyphs" stroke="#fff" stroke-width="0.5">TradingView</text>
<text id="velo" x="1449.67" y="858.8" font-size="21" fill="#fff" textLength="36.76" lengthAdjust="spacingAndGlyphs" stroke="#fff" stroke-width="0.7">velo</text>
<rect x="1422" y="250" width="56" height="17" rx="2" fill="#00bcd4"/>
<rect x="1422" y="692" width="56" height="17" rx="2" fill="#861c25"/>
<text id="lbl1" x="1430.00" y="262.6" font-size="12" fill="#000" textLength="41.99" lengthAdjust="spacingAndGlyphs" stroke="#000" stroke-width="0.25">95865.5</text>
<text id="lbl2" x="1430.00" y="704.8" font-size="12" fill="#fff" textLength="42.30" lengthAdjust="spacingAndGlyphs" stroke="#fff" stroke-width="0.25">−0.0757</text>
<svg x="10" y="846" width="20" height="10" viewBox="0 4 36 18"><path fill="#fff" d="M14 22H7V11H0V4h14v18zM28 22h-8l7.5-18h8L28 22z"/><circle fill="#fff" cx="20" cy="8" r="4"/></svg>
</svg>
</body></html>
